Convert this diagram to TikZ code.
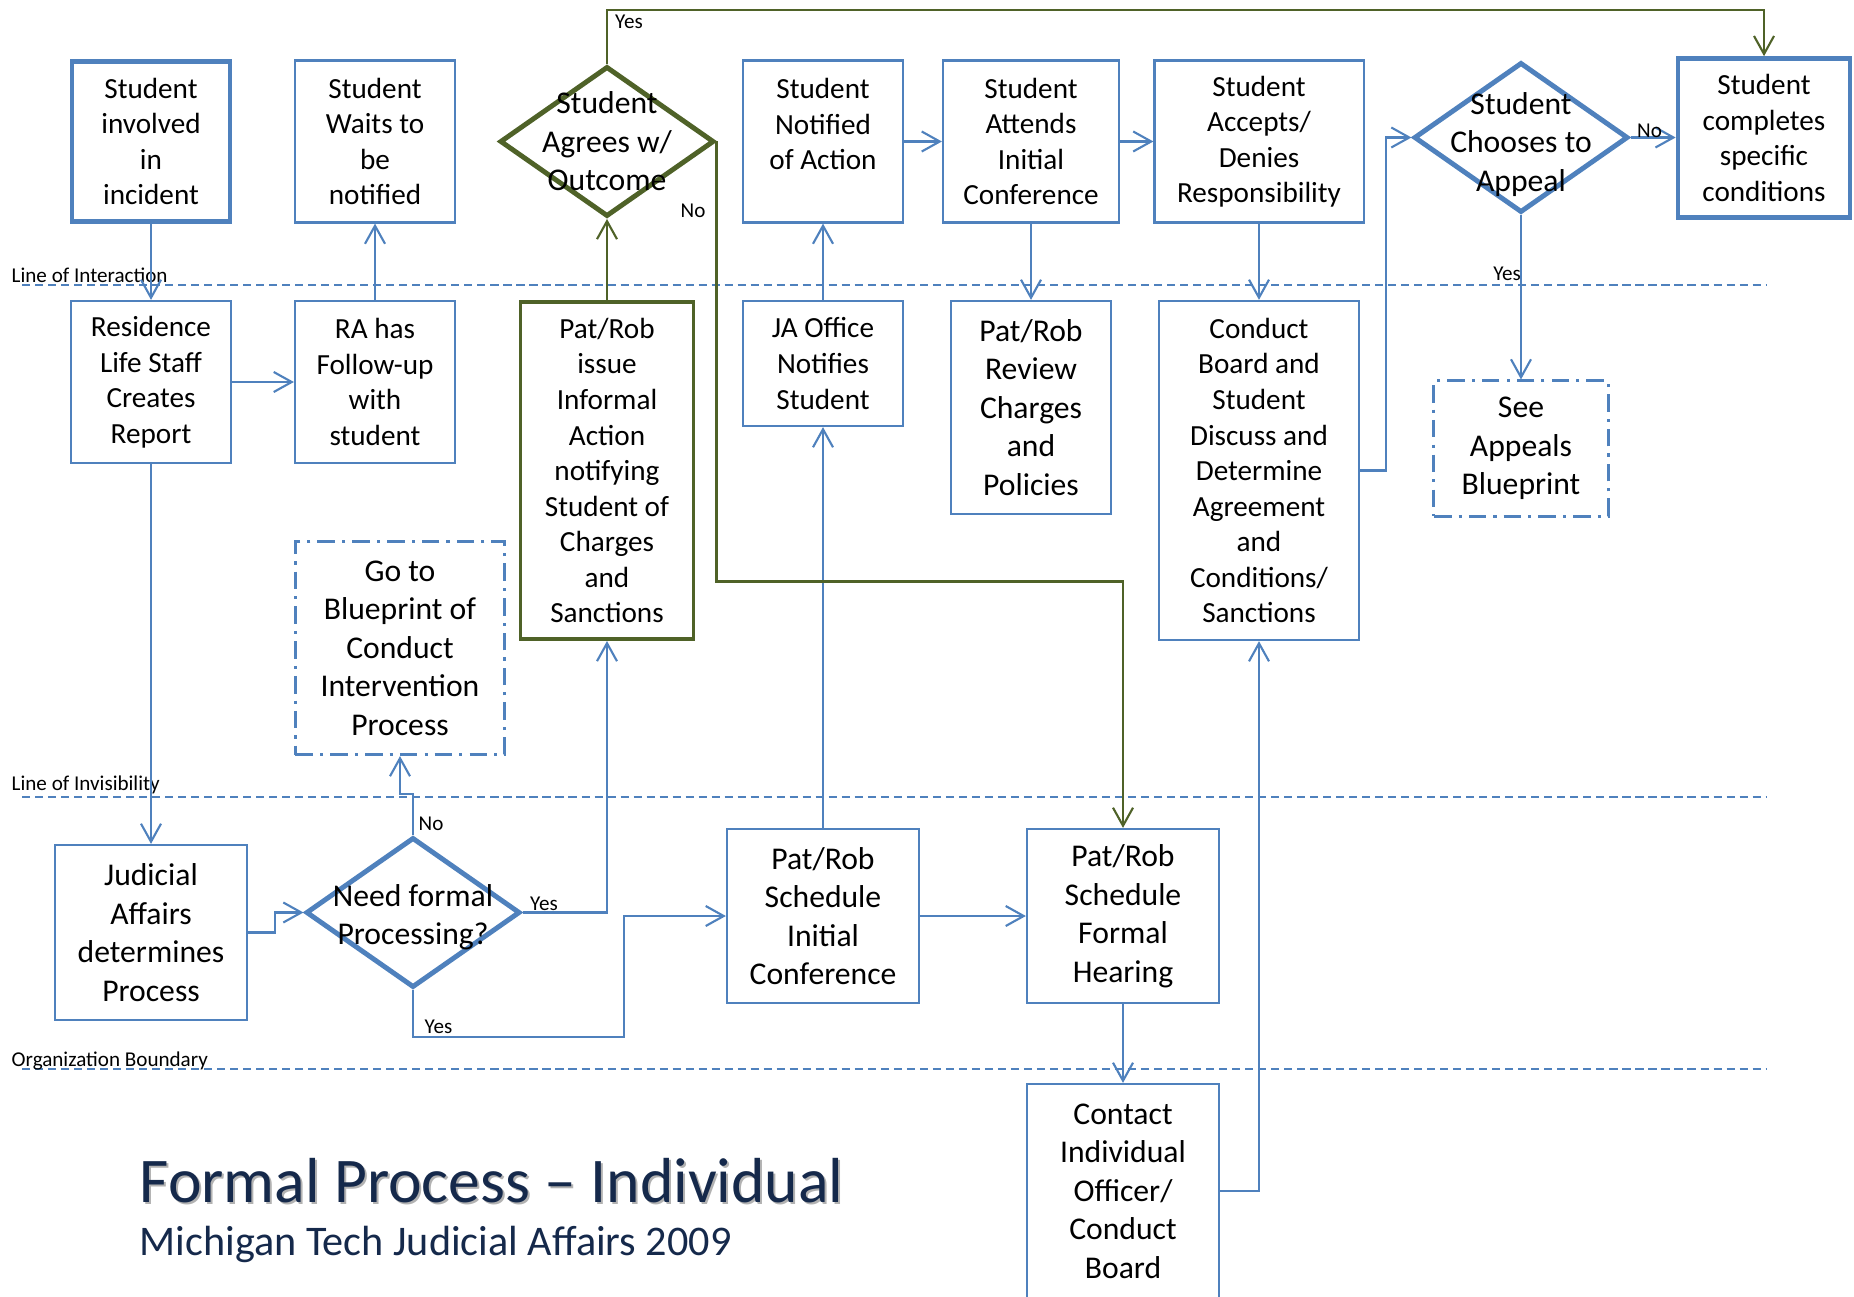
\documentclass[tikz,border=0pt]{standalone}
\usepackage{fontspec}
\setmainfont{Carlito}
\usetikzlibrary{shapes.geometric,arrows.meta}
\definecolor{jablue}{HTML}{4F81BD}
\definecolor{jagreen}{HTML}{4F6228}
\definecolor{janavy}{HTML}{15294B}
\tikzset{
  box/.style={draw=jablue, line width=0.6pt, fill=white, align=center, inner sep=0pt,
    font=\fontsize{8.3}{10.1}\selectfont},
  bigbox/.style={box, font=\fontsize{9}{10.95}\selectfont},
  endbox/.style={box, line width=1.3pt},
  greenbox/.style={box, draw=jagreen, line width=1.1pt},
  refbox/.style={bigbox, line width=0.85pt, dash pattern=on 5pt off 2pt on 0.9pt off 2pt},
  decision/.style={diamond, draw=jablue, line width=1.4pt, fill=white, inner sep=0pt,
    minimum width=2.14cm, minimum height=1.5cm},
  dtext/.style={align=center, inner sep=0pt, font=\fontsize{9}{10.95}\selectfont},
  flow/.style={draw=jablue, line width=0.6pt, -{Straight Barb[length=1.8mm,width=2mm]}},
  gflow/.style={flow, draw=jagreen},
  sep/.style={draw=jablue, line width=0.6pt, dash pattern=on 2.3pt off 1.4pt},
  tag/.style={inner sep=0pt, font=\fontsize{6}{7}\selectfont}
}
\begin{document}
\begin{tikzpicture}[x=0.01cm, y=-0.01cm]
    \useasboundingbox (0, 0) rectangle (1854, 1297);

      \draw[sep] (22, 285) -- (1767, 285);
      \draw[sep] (22, 797) -- (1767, 797);
      \draw[sep] (22, 1069) -- (1767, 1069);
      \node[tag, anchor=base west] (lint) at (11, 282.5) {Line of Interaction};
      \node[tag, anchor=base west] (linv) at (11, 790.5) {Line of Invisibility};
      \node[tag, anchor=base west] (lorg) at (11, 1066.5) {Organization Boundary};

      \node[endbox, minimum width=1.58cm, minimum height=1.6cm] (inv) at (151, 141.5) {Student\\involved\\in\\incident};
      \node[box, minimum width=1.6cm, minimum height=1.62cm] (wait) at (375, 141.5) {Student\\Waits to\\be\\notified};
      \node[decision, draw=jagreen] (agree) at (607, 141.5) {};
      \node[dtext] (agreet) at (agree) {Student\\Agrees w/\\Outcome};
      \node[box, minimum width=1.6cm, minimum height=1.62cm, text depth=10pt] (note) at (823, 141.5) {Student\\Notified\\of Action};
      \node[box, minimum width=1.76cm, minimum height=1.62cm] (attend) at (1031, 141.5) {Student\\Attends\\Initial\\Conference};
      \node[box, minimum width=2.09cm, minimum height=1.62cm] (accept) at (1259, 141.5) {Student\\Accepts/\\Denies\\Responsibility};
      \node[decision] (appeal) at (1521, 137.5) {};
      \node[dtext] (appealt) at (1521, 144.5) {Student\\Chooses to\\Appeal};
      \node[endbox, minimum width=1.72cm, minimum height=1.59cm] (done) at (1764, 138) {Student\\completes\\specific\\conditions};

      \node[box, minimum width=1.6cm, minimum height=1.62cm] (res) at (151, 382) {Residence\\Life Staff\\Creates\\Report};
      \node[box, minimum width=1.6cm, minimum height=1.62cm] (ra) at (375, 382) {RA has\\Follow-up\\with\\student};
      \node[greenbox, minimum width=1.73cm, minimum height=3.37cm] (issue) at (607, 470.5) {Pat/Rob\\issue\\Informal\\Action\\notifying\\Student of\\Charges\\and\\Sanctions};
      \node[box, minimum width=1.6cm, minimum height=1.25cm] (ja) at (823, 363.5) {JA Office\\Notifies\\Student};
      \node[bigbox, minimum width=1.6cm, minimum height=2.13cm] (review) at (1031, 407.5) {Pat/Rob\\Review\\Charges\\and\\Policies};
      \node[box, minimum width=2cm, minimum height=3.39cm] (board) at (1259, 470.5) {Conduct\\Board and\\Student\\Discuss and\\Determine\\Agreement\\and\\Conditions/\\Sanctions};
      \node[refbox, minimum width=1.74cm, minimum height=1.35cm] (seeapp) at (1521, 448.5) {See\\Appeals\\Blueprint};
      \node[refbox, minimum width=2.09cm, minimum height=2.13cm] (goto) at (400, 648) {Go to\\Blueprint of\\Conduct\\Intervention\\Process};

      \node[bigbox, minimum width=1.92cm, minimum height=1.75cm] (jud) at (151, 932.5) {Judicial\\Affairs\\determines\\Process};
      \node[decision] (need) at (413, 912.5) {};
      \node[dtext] (needt) at (413, 917) {Need formal\\Processing?};
      \node[bigbox, minimum width=1.92cm, minimum height=1.74cm] (schi) at (823, 916) {Pat/Rob\\Schedule\\Initial\\Conference};
      \node[bigbox, minimum width=1.92cm, minimum height=1.74cm] (schf) at (1123, 916) {Pat/Rob\\Schedule\\Formal\\Hearing};
      \node[bigbox, minimum width=1.92cm, minimum height=2.14cm] (contact) at (1123, 1191) {Contact\\Individual\\Officer/\\Conduct\\Board};

      \draw[flow] (inv) -- (res);
      \draw[flow] (res) -- (ra);
      \draw[flow] (ra) -- (wait);
      \draw[flow] (res) -- (jud);
      \draw[flow] (jud.east) -- ++(27, 0) |- (need.west);
      \draw[flow] (need.north) -- ++(0, -41) -| (goto.south);
      \draw[flow] (need.east) -| (issue.south);
      \draw[flow] (need.south) |- (624, 1037) |- (schi.west);
      \draw[flow] (schi) -- (ja);
      \draw[flow] (ja) -- (note);
      \draw[flow] (note) -- (attend);
      \draw[flow] (attend) -- (accept);
      \draw[flow] (attend) -- (review);
      \draw[flow] (accept) -- (board);
      \draw[flow] (board.east) -- ++(26, 0) |- (appeal.west);
      \draw[flow] (appeal.east) -- (done.west |- appeal.east);
      \draw[flow] (appeal) -- (seeapp);
      \draw[flow] (schi) -- (schf);
      \draw[flow] (schf) -- (contact);
      \draw[flow] (contact.east) -| (board.south);
      \draw[gflow] (issue) -- (agree);
      \draw[gflow] (agree.north) -- ++(0, -54) -| (done.north);
      \draw[gflow] (agree.east) -- ++(0, 440) -| (schf.north);

      \node[tag] (yagree) at (629, 22) {Yes};
      \node[tag] (nagree) at (693, 210.5) {No};
      \node[tag] (nneed) at (431, 824) {No};
      \node[tag] (yneed) at (544, 904) {Yes};
      \node[tag] (yneedb) at (438.5, 1026.5) {Yes};
      \node[tag] (nappeal) at (1649.5, 130.5) {No};
      \node[tag] (yappeal) at (1507, 274) {Yes};

      \node[anchor=base west, inner sep=0pt, text=black!30, font=\fontsize{18.1}{22}\selectfont] (titles) at (141, 1204.5) {Formal Process -- Individual};
      \node[anchor=base west, inner sep=0pt, text=janavy, font=\fontsize{18.1}{22}\selectfont] (title) at (139, 1202.5) {Formal Process -- Individual};
      \node[anchor=base west, inner sep=0pt, text=janavy, font=\fontsize{12}{14}\selectfont] (subtitle) at (139, 1255) {Michigan Tech Judicial Affairs 2009};

    \end{tikzpicture}
\end{document}
